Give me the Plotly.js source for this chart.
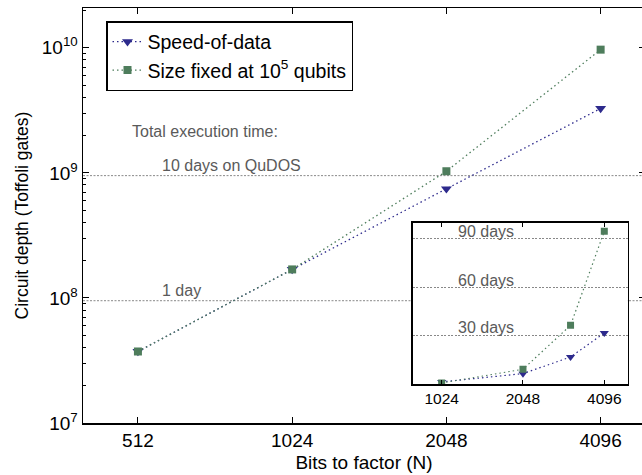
<!DOCTYPE html>
<html><head><meta charset="utf-8">
<script src="https://cdn.plot.ly/plotly-3.0.1.min.js"></script>
<style>html,body{margin:0;padding:0;overflow:hidden;background:#fff}</style>
</head><body><div id="chart" style="width:648px;height:475px"></div>
<script>
// ---- data ----
const bits = [512, 1024, 2048, 4096];
const speedOfData = [3.73e7, 1.69e8, 7.45e8, 3.27e9];
const sizeFixed = [3.73e7, 1.69e8, 1.03e9, 9.66e9];
const insetBits = [1024, 2048, 3072, 4096];
const insetSpeedDays = [1.5, 6.6, 16.9, 31.7];
const insetSizeDays = [0.8, 9.3, 36.5, 94.7];
const refLevels = [9.5e7, 9.5e8];
const refLabels = ['1 day', '10 days on QuDOS'];
const insetLevels = [30, 60, 90];
const insetLabels = ['30 days', '60 days', '90 days'];
const xTickVals = [512, 1024, 2048, 4096];
const xTickText = ['512', '1024', '2048', '4096'];
const yTickVals = [1e7, 1e8, 1e9, 1e10];
const yTickText = ['10<sup>7</sup>', '10<sup>8</sup>', '10<sup>9</sup>', '10<sup>10</sup>'];
const insetTickVals = [1024, 2048, 4096];
const insetTickText = ['1024', '2048', '4096'];
const xRange = [400, 5000];
const insetXRange = [800, 5000];
const seriesNames = ['Speed-of-data', 'Size fixed at 10<sup>5</sup> qubits'];

// ---- styles ----
const NAVY = '#2d2a8c';
const GREEN = '#4e7d5c';
const GREY = '#888888';
const TXT = '#5a5a5a';
const FONT = 'Liberation Sans, Arial, Helvetica, sans-serif';

const minorVals = [];
for (let e = 7; e <= 10; e++) for (let m = 2; m <= 9; m++) minorVals.push(m * Math.pow(10, e));

const traces = [];
refLevels.forEach(v => traces.push({
  x: xRange, y: [v, v], xaxis: 'x', yaxis: 'y', mode: 'lines',
  line: {color: GREY, width: 1, dash: '2px,1.5px'}, showlegend: false, hoverinfo: 'skip'
}));
traces.push({
  x: bits, y: speedOfData, name: seriesNames[0], xaxis: 'x', yaxis: 'y', mode: 'lines+markers',
  line: {color: NAVY, width: 1.3, dash: '1.5px,3px'},
  marker: {symbol: 'triangle-down', size: 9.5, color: NAVY}
});
traces.push({
  x: bits, y: sizeFixed, name: seriesNames[1], xaxis: 'x', yaxis: 'y', mode: 'lines+markers',
  line: {color: GREEN, width: 1.3, dash: '1.5px,3px'},
  marker: {symbol: 'square', size: 8, color: GREEN}
});
traces.push({
  x: insetBits, y: insetSpeedDays, xaxis: 'x2', yaxis: 'y2', mode: 'lines+markers', showlegend: false,
  line: {color: NAVY, width: 1.2, dash: '1.5px,3px'},
  marker: {symbol: 'triangle-down', size: 8, color: NAVY}
});
traces.push({
  x: insetBits, y: insetSizeDays, xaxis: 'x2', yaxis: 'y2', mode: 'lines+markers', showlegend: false,
  line: {color: GREEN, width: 1.2, dash: '1.5px,3px'},
  marker: {symbol: 'square', size: 7, color: GREEN}
});

const L = 83, R = 3, T = 8, B = 52, W = 648, H = 475;
const pw = W - L - R, ph = H - T - B;
const px = x => (x - L) / pw;
const py = y => (H - B - y) / ph;

const annotations = [
  {text: 'Total execution time:', x: px(130), y: py(131.7)},
  {text: refLabels[1], x: px(159.5), y: py(165)},
  {text: refLabels[0], x: px(159.5), y: py(290.7)},
].map(a => Object.assign({xref: 'paper', yref: 'paper', xanchor: 'left', yanchor: 'middle', showarrow: false,
  font: {size: 16, color: TXT, family: FONT}}, a));
const insetY = [327.7, 280, 231.7];
insetLabels.forEach((t, i) => annotations.push({
  text: t, xref: 'paper', yref: 'paper', x: px(455.5), y: py(insetY[i]), xanchor: 'left', yanchor: 'middle',
  showarrow: false, font: {size: 16, color: TXT, family: FONT}
}));

const layout = {
  width: W, height: H,
  margin: {l: L, r: R, t: T, b: B},
  paper_bgcolor: '#fff', plot_bgcolor: '#fff',
  font: {family: FONT, color: '#000'},
  showlegend: true,
  legend: {x: px(106), y: py(21), xanchor: 'left', yanchor: 'top', bgcolor: '#fff',
    bordercolor: '#000', borderwidth: 1.5, font: {size: 19.5, family: FONT}, tracegroupgap: 0},
  xaxis: {
    type: 'log', range: xRange.map(Math.log10), tickmode: 'array', tickvals: xTickVals, ticktext: xTickText,
    ticks: 'inside', ticklen: 6, tickwidth: 1, tickcolor: '#000', showline: true, linewidth: 1.5, linecolor: '#000',
    mirror: 'ticks', showgrid: false, zeroline: false, tickfont: {size: 19, family: FONT},
    title: {text: 'Bits to factor (N)', font: {size: 19, family: FONT}, standoff: 5}
  },
  yaxis: {
    type: 'log', range: [7, 10.318], tickmode: 'array', tickvals: yTickVals, ticktext: yTickText,
    ticks: 'inside', ticklen: 6, tickwidth: 1, tickcolor: '#000', showline: true, linewidth: 1.5, linecolor: '#000',
    mirror: 'ticks', showgrid: false, zeroline: false, tickfont: {size: 19, family: FONT},
    minor: {tickmode: 'array', tickvals: minorVals, ticks: 'inside', ticklen: 3, tickcolor: '#000', showgrid: false},
    title: {text: 'Circuit depth (Toffoli gates)', font: {size: 17.5, family: FONT}, standoff: 8}
  },
  xaxis2: {
    domain: [px(412.7), px(627.7)], anchor: 'y2', type: 'log', range: insetXRange.map(Math.log10),
    tickmode: 'array', tickvals: insetTickVals, ticktext: insetTickText, ticks: 'inside', ticklen: 4,
    tickcolor: '#000', showline: true, linewidth: 1.5, linecolor: '#000', mirror: 'ticks',
    showgrid: false, zeroline: false, tickfont: {size: 15.5, family: FONT}
  },
  yaxis2: {
    domain: [py(384.3), py(222.7)], anchor: 'x2', range: [0, 100], tickmode: 'array', tickvals: insetLevels,
    showticklabels: false, ticks: '', showline: true, linewidth: 1.5, linecolor: '#000', mirror: true,
    showgrid: true, gridcolor: GREY, gridwidth: 1, griddash: '2px,1.5px', zeroline: false
  },
  annotations: annotations
};

Plotly.newPlot('chart', traces, layout, {displayModeBar: false, staticPlot: true});
</script>
</body></html>
